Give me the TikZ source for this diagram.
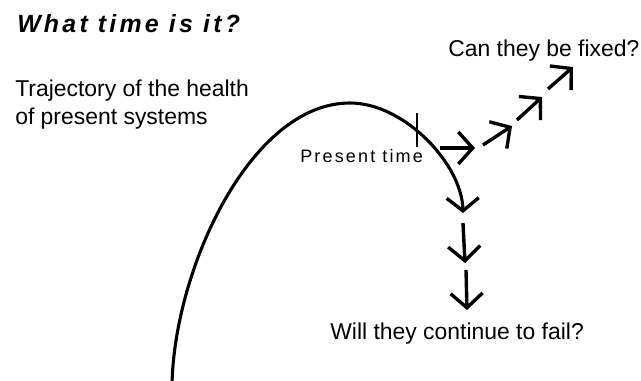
\documentclass[tikz,border=0pt]{standalone}
\usepackage{fontspec}
\setmainfont{Liberation Sans}
\newfontfamily\spacedfont[LetterSpace=12]{Liberation Sans}
\newfontfamily\titlefont[LetterSpace=13]{Liberation Sans}
\usetikzlibrary{arrows.meta}
\tikzset{
    mytext/.style = {inner sep=0pt, anchor=base west, align=left, font=\fontsize{16.3}{19.5}\selectfont},
    mytitle/.style = {inner sep=0pt, anchor=base west, font=\titlefont\bfseries\itshape\fontsize{17.7}{21}\selectfont},
    mysmall/.style = {inner sep=0pt, anchor=base west, font=\spacedfont\fontsize{12.8}{15}\selectfont},
    curven/.style = {line width=2.2pt, line cap=round, -{Straight Barb[length=3.2mm,width=8mm,line width=2.4pt]}},
    edgen/.style = {line width=2.4pt, -{Straight Barb[length=3.6mm,width=8mm]}},
    tick/.style = {line width=1.6pt}
}
\begin{document}
\begin{tikzpicture}[x=0.025cm,y=-0.025cm]
\useasboundingbox (0,0) rectangle (641,381);
%
\node[mytitle] at (17,33) (title) {What time is it?};
\node[mytext] at (15,125) (traj) {Trajectory of the health\\[0.6pt]of present systems};
\node[mysmall] at (300,163) (now) {Present time};
\node[mytext] at (448,57) (fixed) {Can they be fixed?};
\node[mytext] at (330,340) (fail) {Will they continue to fail?};
%
\coordinate (start) at (172,385);
\coordinate (peak) at (350,103);
\coordinate (d) at (463,213);
\coordinate (r0) at (440,148); \coordinate (r1) at (475,148);
\coordinate (r2) at (483,145); \coordinate (r3) at (512,126);
\coordinate (r4) at (517,120); \coordinate (r5) at (542,97);
\coordinate (r6) at (548,89);  \coordinate (r7) at (573,67);
\coordinate (d0) at (463,223); \coordinate (d1) at (465,263);
\coordinate (d2) at (466,270); \coordinate (d3) at (467,310);
\coordinate (t0) at (417,113); \coordinate (t1) at (417,147);
%
\draw[curven] (start) .. controls (174,270) and (250,103) .. (peak)
                      .. controls (405,103) and (462,165) .. (d);
\draw[tick] (t0) -- (t1);
%
\draw[edgen] (r0) -- (r1);
\draw[edgen] (r2) -- (r3);
\draw[edgen] (r4) -- (r5);
\draw[edgen] (r6) -- (r7);
\draw[edgen] (d0) -- (d1);
\draw[edgen] (d2) -- (d3);

\end{tikzpicture}
\end{document}
